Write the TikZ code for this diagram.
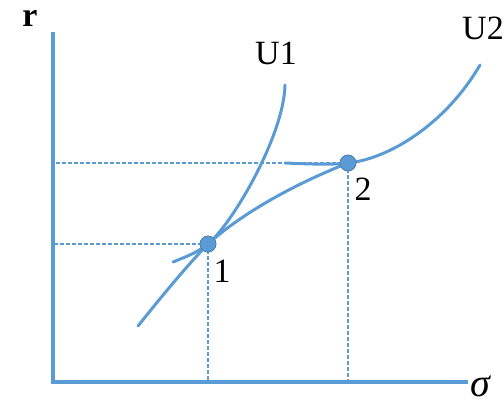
\documentclass[tikz,border=0pt]{standalone}
\usepackage{fontspec}
\setmainfont{Liberation Serif}
\usepackage{xcolor}
\definecolor{curveblue}{RGB}{91,155,213}

\begin{document}
\begin{tikzpicture}[x=1pt,y=-1pt,
                    axis/.style={draw=curveblue,line width=4pt},
                    curve/.style={draw=curveblue,line width=3pt,line cap=round},
                    guide/.style={draw=curveblue,line width=1.3pt,dash pattern=on 4pt off 2pt},
                    dot/.style={circle,fill=curveblue,draw=curveblue!80!black,line width=0.6pt,minimum size=16pt,inner sep=0pt},
                    lbl/.style={font=\fontsize{34}{38}\selectfont,inner sep=0pt}]
\useasboundingbox (0,0) rectangle (504,405);
\coordinate (top)    at (53,32);
\coordinate (origin) at (53,382);
\coordinate (right)  at (468,382);
\draw[axis] (top) -- (origin) -- (right);
\node[lbl] (rlabel) at (30,18) {\textbf{r}};
\node[lbl,font=\fontsize{40}{44}\selectfont] (siglabel) at (481,386) {\textit{σ}};
\node[dot] (p1) at (208,244) {};
\node[dot] (p2) at (348,163) {};
\draw[guide] (p1.center) -- (p1.center -| origin);
\draw[guide] (p1.center) -- (p1.center |- origin);
\draw[guide] (p2.center) -- (p2.center -| origin);
\draw[guide] (p2.center) -- (p2.center |- origin);
% frontier
\draw[curve] (138,326) .. controls (158,301) and (183,270) .. (p1.center)
             .. controls (240,215) and (290,186) .. (p2.center);
% U1
\draw[curve] (173,262) .. controls (185,257) and (197,253) .. (p1.center)
             .. controls (233,223) and (284,135) .. (285,85);
% U2
\draw[curve] (285,163) .. controls (310,164) and (330,165) .. (p2.center)
             .. controls (388,159) and (445,125) .. (480,65);
\node[dot] at (p1) {};
\node[dot] at (p2) {};
\node[lbl] (u1) at (276,53) {U1};
\node[lbl] (u2) at (483,28) {U2};
\node[lbl] (n1) at (222,271) {1};
\node[lbl] (n2) at (363,189) {2};
\end{tikzpicture}
\end{document}
